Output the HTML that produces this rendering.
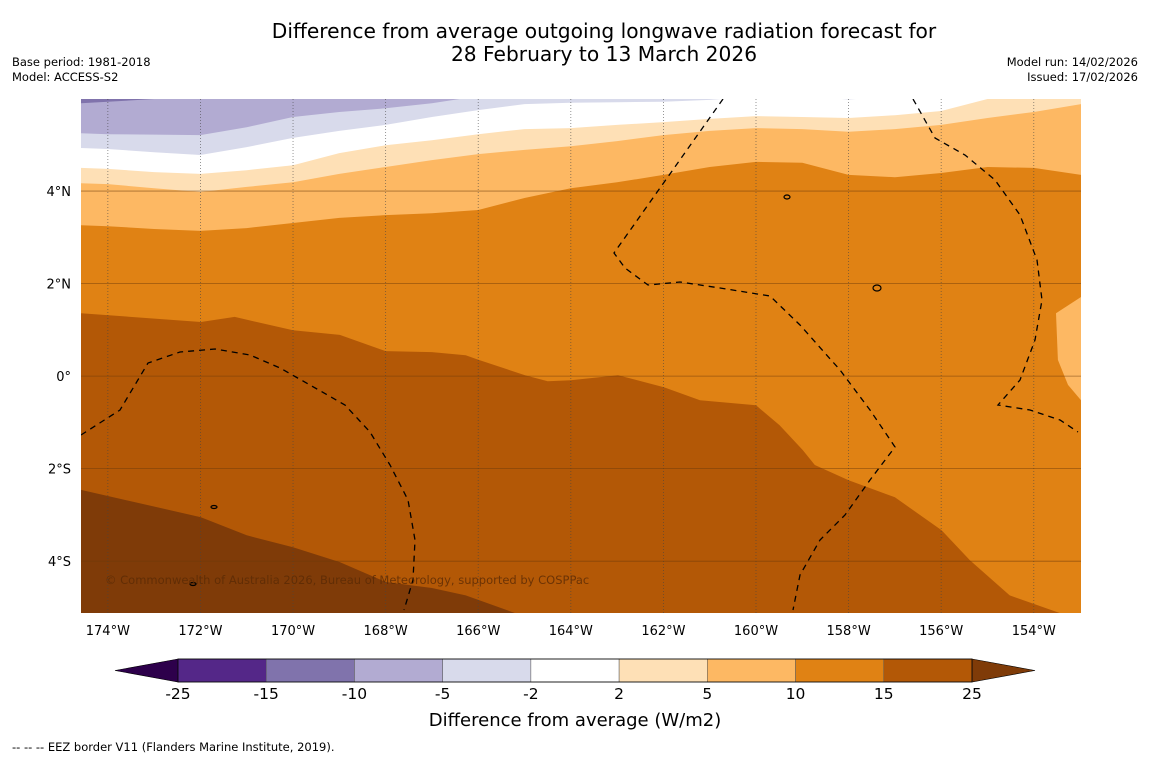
<!DOCTYPE html>
<html><head><meta charset="utf-8"><style>
body{margin:0;background:#fff;width:1150px;height:758px;overflow:hidden;font-family:"DejaVu Sans","Liberation Sans",sans-serif;}
svg{position:absolute;left:0;top:0}
</style></head><body>
<svg id="chart" width="1150" height="758" font-family="DejaVu Sans, Liberation Sans, sans-serif">
<text x="604" y="38" font-size="20.2" text-anchor="middle">Difference from average outgoing longwave radiation forecast for</text>
<text x="604" y="61" font-size="20.2" text-anchor="middle">28 February to 13 March 2026</text>
<text x="12" y="66" font-size="11.5">Base period: 1981-2018</text>
<text x="12" y="81" font-size="11.5">Model: ACCESS-S2</text>
<text x="1138" y="66" font-size="11.5" text-anchor="end">Model run: 14/02/2026</text>
<text x="1138" y="81" font-size="11.5" text-anchor="end">Issued: 17/02/2026</text>
<defs><clipPath id="mapclip"><rect x="81" y="99" width="1000" height="514"/></clipPath></defs>
<g id="map" clip-path="url(#mapclip)"></g>
<g id="axes"></g>
<g id="cbar"></g>
<text x="575" y="726" font-size="18" text-anchor="middle">Difference from average (W/m2)</text>
<text x="12" y="751" font-size="11.5">--  --  -- EEZ border V11 (Flanders Marine Institute, 2019).</text>
</svg>
<script>
const NS='http://www.w3.org/2000/svg';
const lonMin=-174.58, lonMax=-152.98, latMin=-5.12, latMax=5.99;
const lonTicks=[-174,-172,-170,-168,-166,-164,-162,-160,-158,-156,-154];
const latTicks=[4,2,0,-2,-4];
const lonTickLabels=['174°W','172°W','170°W','168°W','166°W','164°W','162°W','160°W','158°W','156°W','154°W'];
const latTickLabels=['4°N','2°N','0°','2°S','4°S'];
const levels=[-25,-15,-10,-5,-2,2,5,10,15,25];
const bandColors=['#542788','#8073ac','#b2abd2','#d8daeb','#ffffff','#fee0b6','#fdb863','#e08214','#b35806'];
const underColor='#2d004b', overColor='#7f3b08';
const gridLon=[-174.58,-174,-173,-172,-171,-170,-169,-168,-167,-166,-165,-164,-163,-162,-161,-160,-159,-158,-157,-156,-155,-154,-152.98];
const bMinus10Lat=[5.90,5.93,5.99,6.1,6.1,6.1,6.1,6.1,6.1,6.1,6.1,6.1,6.1,6.1,6.1,6.1,6.1,6.1,6.1,6.1,6.1,6.1,6.1];
const bMinus5Lat=[5.25,5.23,5.22,5.21,5.38,5.6,5.71,5.79,5.9,6.05,6.1,6.1,6.1,6.1,6.1,6.1,6.1,6.1,6.1,6.1,6.1,6.1,6.1];
const bMinus2Lat=[4.93,4.91,4.84,4.78,4.95,5.15,5.30,5.43,5.6,5.75,5.88,5.91,5.92,5.93,5.97,6.05,6.05,5.98,6.05,6.05,6.05,6.05,6.05];
const b2Lat=[4.50,4.48,4.41,4.37,4.45,4.56,4.82,4.99,5.10,5.23,5.34,5.36,5.43,5.49,5.56,5.62,5.6,5.58,5.64,5.73,5.99,6.03,6.1];
const b5Lat=[4.17,4.15,4.06,3.98,4.09,4.19,4.37,4.52,4.67,4.8,4.89,4.97,5.08,5.21,5.3,5.36,5.34,5.28,5.34,5.43,5.58,5.71,5.88];
const b10Lat=[3.26,3.24,3.18,3.14,3.2,3.31,3.42,3.48,3.52,3.59,3.85,4.06,4.19,4.35,4.52,4.63,4.61,4.35,4.3,4.39,4.52,4.5,4.35];
const b15Lon=[-174.58,-171.99,-171.26,-170.0,-168.99,-168.0,-167.0,-166.27,-165.99,-164.99,-164.5,-164.0,-162.98,-161.99,-161.21,-160.0,-159.49,-158.99,-158.73,-158.0,-157.0,-155.99,-155.38,-154.52,-153.44,-152.98];
const b15Lat=[1.36,1.17,1.28,0.99,0.89,0.54,0.52,0.45,0.35,0.02,-0.11,-0.09,0.02,-0.24,-0.52,-0.63,-1.06,-1.6,-1.92,-2.25,-2.62,-3.33,-3.98,-4.74,-5.12,-5.5];
const b25Lon=[-174.58,-171.99,-171.0,-170.0,-168.99,-168.0,-167.0,-166.27,-165.21,-164.5,-152.98];
const b25Lat=[-2.46,-3.05,-3.44,-3.7,-4.02,-4.45,-4.58,-4.74,-5.12,-5.5,-5.5];
const patchLon=[-152.98,-153.52,-153.48,-153.26,-152.98];
const patchLat=[1.71,1.36,0.35,-0.19,-0.52];
const eezLines=[
 [[81,435],[120,410],[148,363],[180,352],[215,349],[250,355],[280,368],[310,385],[345,405],[370,432],[390,465],[408,500],[415,540],[413,580],[404,610]],
 [[723,99],[614,253],[625,268],[648,285],[680,282],[720,288],[770,296],[800,325],[840,370],[870,410],[895,447],[870,480],[845,515],[820,540],[800,575],[793,610]],
 [[913,99],[935,138],[965,155],[995,180],[1020,215],[1037,260],[1042,300],[1035,340],[1020,380],[998,405],[1030,410],[1060,420],[1078,432]]
];
const X=lon=>81+(lon-lonMin)/(lonMax-lonMin)*1000;
const Y=lat=>99+(latMax-lat)/(latMax-latMin)*514;
const map=document.getElementById('map'), axes=document.getElementById('axes'), cbar=document.getElementById('cbar');
function mk(tag,attrs,parent){const e=document.createElementNS(NS,tag);for(const k in attrs)e.setAttribute(k,attrs[k]);parent.appendChild(e);return e;}
let bg=mk('rect',{x:81,y:99,width:1000,height:514,fill:bandColors[1]},map);


function region(lons,lats,color,name){
  let d='M'+X(lons[0])+','+(Y(latMin)+20);
  for(let i=0;i<lons.length;i++)d+=' L'+X(lons[i]).toFixed(1)+','+Y(lats[i]).toFixed(1);
  d+=' L'+X(lons[lons.length-1])+','+(Y(latMin)+20)+'Z';
  const p=mk('path',{d:d,fill:color},map);
  
  
}
region(gridLon,bMinus10Lat,bandColors[2],'band-minus10-minus5');
region(gridLon,bMinus5Lat,bandColors[3],'band-minus5-minus2');
region(gridLon,bMinus2Lat,bandColors[4],'band-minus2-2');
region(gridLon,b2Lat,bandColors[5],'band-2-5');
region(gridLon,b5Lat,bandColors[6],'band-5-10');
region(gridLon,b10Lat,bandColors[7],'band-10-15');
region(b15Lon,b15Lat,bandColors[8],'band-15-25');
region(b25Lon,b25Lat,overColor,'band-over-25');
{let d='M'+X(patchLon[0])+','+Y(patchLat[0]);for(let i=1;i<patchLon.length;i++)d+=' L'+X(patchLon[i]).toFixed(1)+','+Y(patchLat[i]).toFixed(1);d+='Z';
const p=mk('path',{d:d,fill:bandColors[6]},map);

}
lonTicks.forEach((lon,i)=>{
  const l=mk('line',{x1:X(lon),x2:X(lon),y1:99,y2:613,stroke:'#444','stroke-width':0.8,'stroke-dasharray':'1,2','stroke-opacity':0.7},map);
  
  
  const t=mk('text',{x:X(lon),y:635,'font-size':13,'text-anchor':'middle'},axes);t.textContent=lonTickLabels[i];
  
  
});
latTicks.forEach((lat,i)=>{
  const l=mk('line',{x1:81,x2:1081,y1:Y(lat),y2:Y(lat),stroke:'#6b3a0a','stroke-width':0.8,'stroke-opacity':0.6},map);
  
  
  const t=mk('text',{x:71,y:Y(lat)+5,'font-size':13,'text-anchor':'end'},axes);t.textContent=latTickLabels[i];
  
  
});
eezLines.forEach(pts=>{
  const p=mk('polyline',{points:pts.map(q=>q.join(',')).join(' '),fill:'none',stroke:'#000','stroke-width':1.3,'stroke-dasharray':'6,5'},map);
  
  
});
[[787,197,3,2],[877,288,4,3],[214,507,3,1.5],[193,584,3,1.5]].forEach(c=>{
  const e=mk('ellipse',{cx:c[0],cy:c[1],rx:c[2],ry:c[3],fill:'none',stroke:'#000','stroke-width':1.2},map);
  
  
});
const cp=mk('text',{x:105,y:584,'font-size':11.5,fill:'#5a2a05','fill-opacity':0.8},map);cp.textContent='© Commonwealth of Australia 2026, Bureau of Meteorology, supported by COSPPac';


const cbX0=178,cbX1=972,cbY=659,cbH=23;
const segW=(cbX1-cbX0)/bandColors.length;
const lt=mk('path',{d:`M${cbX0},${cbY} L115,${cbY+cbH/2} L${cbX0},${cbY+cbH}Z`,fill:underColor,stroke:'#000','stroke-width':0.6},cbar);


const rt=mk('path',{d:`M${cbX1},${cbY} L1035,${cbY+cbH/2} L${cbX1},${cbY+cbH}Z`,fill:overColor,stroke:'#000','stroke-width':0.6},cbar);


bandColors.forEach((c,i)=>{
  const r=mk('rect',{x:cbX0+i*segW,y:cbY,width:segW,height:cbH,fill:c,stroke:'#555','stroke-width':0.5},cbar);
  
  
});
mk('rect',{x:cbX0,y:cbY,width:cbX1-cbX0,height:cbH,fill:'none',stroke:'#000','stroke-width':0.8},cbar);
levels.forEach((v,i)=>{
  const t=mk('text',{x:cbX0+i*segW,y:699,'font-size':15.5,'text-anchor':'middle'},cbar);t.textContent=String(v);
  
  
});
</script>
</body></html>
